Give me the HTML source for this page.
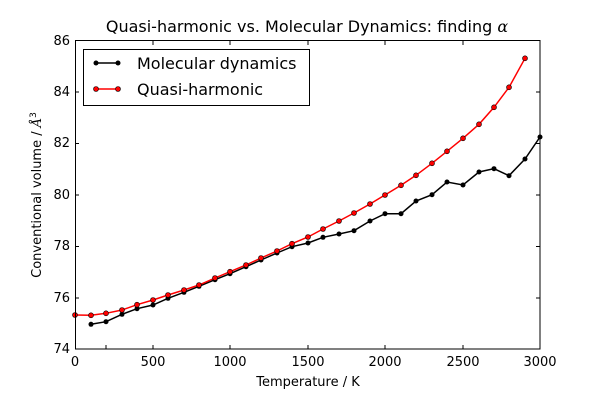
<!DOCTYPE html>
<html><head><style>body{margin:0;background:#fff}svg{display:block}text{font-family:"DejaVu Sans","Liberation Sans",sans-serif}</style></head>
<body>
<svg width="600" height="400" viewBox="0 0 600 400" xmlns="http://www.w3.org/2000/svg">
<rect width="600" height="400" fill="#fff"/>
<text x="307" y="32" font-size="16" text-anchor="middle">Quasi-harmonic vs. Molecular Dynamics: finding <tspan font-family="DejaVu Serif,serif" font-style="italic">α</tspan></text>
<g stroke="#000" stroke-width="1">
<line x1="106" y1="349" x2="106" y2="345"/><line x1="153" y1="349" x2="153" y2="345"/><line x1="230" y1="349" x2="230" y2="345"/><line x1="308" y1="349" x2="308" y2="345"/><line x1="385" y1="349" x2="385" y2="345"/><line x1="463" y1="349" x2="463" y2="345"/>
<line x1="153" y1="41" x2="153" y2="45"/><line x1="230" y1="41" x2="230" y2="45"/><line x1="308" y1="41" x2="308" y2="45"/><line x1="385" y1="41" x2="385" y2="45"/><line x1="463" y1="41" x2="463" y2="45"/>
<line x1="75" y1="298" x2="79" y2="298"/><line x1="75" y1="246.5" x2="79" y2="246.5"/><line x1="75" y1="195" x2="79" y2="195"/><line x1="75" y1="143.5" x2="79" y2="143.5"/><line x1="75" y1="92" x2="79" y2="92"/>
<line x1="540" y1="298" x2="536" y2="298"/><line x1="540" y1="246.5" x2="536" y2="246.5"/><line x1="540" y1="195" x2="536" y2="195"/><line x1="540" y1="143.5" x2="536" y2="143.5"/><line x1="540" y1="92" x2="536" y2="92"/>
</g>
<polyline fill="none" stroke="#000" stroke-width="1.5" points="91,324.3 106,321.7 122,314.3 137,308.7 153,305 168,298.3 184,292.3 199,286.3 215,279.7 230,273.7 246,266.7 261,260 277,253 292,246.7 308,243 323,237.3 339,234 354,230.7 370,221 385,213.7 401,213.7 416,201 432,194.7 447,182 463,185 479,172 494,168.7 509,175.7 525,159 540,137"/>
<g fill="#000">
<circle cx="91" cy="324.3" r="2.5"/><circle cx="106" cy="321.7" r="2.5"/><circle cx="122" cy="314.3" r="2.5"/><circle cx="137" cy="308.7" r="2.5"/><circle cx="153" cy="305" r="2.5"/><circle cx="168" cy="298.3" r="2.5"/><circle cx="184" cy="292.3" r="2.5"/><circle cx="199" cy="286.3" r="2.5"/><circle cx="215" cy="279.7" r="2.5"/><circle cx="230" cy="273.7" r="2.5"/><circle cx="246" cy="266.7" r="2.5"/><circle cx="261" cy="260" r="2.5"/><circle cx="277" cy="253" r="2.5"/><circle cx="292" cy="246.7" r="2.5"/><circle cx="308" cy="243" r="2.5"/><circle cx="323" cy="237.3" r="2.5"/><circle cx="339" cy="234" r="2.5"/><circle cx="354" cy="230.7" r="2.5"/><circle cx="370" cy="221" r="2.5"/><circle cx="385" cy="213.7" r="2.5"/><circle cx="401" cy="213.7" r="2.5"/><circle cx="416" cy="201" r="2.5"/><circle cx="432" cy="194.7" r="2.5"/><circle cx="447" cy="182" r="2.5"/><circle cx="463" cy="185" r="2.5"/><circle cx="479" cy="172" r="2.5"/><circle cx="494" cy="168.7" r="2.5"/><circle cx="509" cy="175.7" r="2.5"/><circle cx="525" cy="159" r="2.5"/><circle cx="540" cy="137" r="2.5"/>
</g>
<polyline fill="none" stroke="#f00" stroke-width="1.5" points="75,315 91,315.3 106,313.3 122,310 137,304.7 153,300 168,295 184,290 199,285 215,278 230,271.7 246,265 261,258 277,251 292,243.7 308,237 323,229 339,221 354,213 370,204 385,195 401,185.3 416,175.3 432,163.3 447,151.3 463,138.3 479,124.3 494,107.3 509,87.3 525,58.3"/>
<g fill="#f00" stroke="#000" stroke-width="0.6">
<circle cx="75" cy="315" r="2.5"/><circle cx="91" cy="315.3" r="2.5"/><circle cx="106" cy="313.3" r="2.5"/><circle cx="122" cy="310" r="2.5"/><circle cx="137" cy="304.7" r="2.5"/><circle cx="153" cy="300" r="2.5"/><circle cx="168" cy="295" r="2.5"/><circle cx="184" cy="290" r="2.5"/><circle cx="199" cy="285" r="2.5"/><circle cx="215" cy="278" r="2.5"/><circle cx="230" cy="271.7" r="2.5"/><circle cx="246" cy="265" r="2.5"/><circle cx="261" cy="258" r="2.5"/><circle cx="277" cy="251" r="2.5"/><circle cx="292" cy="243.7" r="2.5"/><circle cx="308" cy="237" r="2.5"/><circle cx="323" cy="229" r="2.5"/><circle cx="339" cy="221" r="2.5"/><circle cx="354" cy="213" r="2.5"/><circle cx="370" cy="204" r="2.5"/><circle cx="385" cy="195" r="2.5"/><circle cx="401" cy="185.3" r="2.5"/><circle cx="416" cy="175.3" r="2.5"/><circle cx="432" cy="163.3" r="2.5"/><circle cx="447" cy="151.3" r="2.5"/><circle cx="463" cy="138.3" r="2.5"/><circle cx="479" cy="124.3" r="2.5"/><circle cx="494" cy="107.3" r="2.5"/><circle cx="509" cy="87.3" r="2.5"/><circle cx="525" cy="58.3" r="2.5"/>
</g>
<rect x="75.5" y="40.5" width="464.5" height="308.5" fill="none" stroke="#000" stroke-width="1"/>
<rect x="83.5" y="49.5" width="226" height="56" fill="#fff" stroke="#000" stroke-width="1"/>
<line x1="96" y1="63" x2="118" y2="63" stroke="#000" stroke-width="1.5"/>
<circle cx="96" cy="63" r="2.5"/><circle cx="118" cy="63" r="2.5"/>
<line x1="96" y1="89" x2="118" y2="89" stroke="#f00" stroke-width="1.5"/>
<circle cx="96" cy="89" r="2.5" fill="#f00" stroke="#000" stroke-width="0.6"/><circle cx="118" cy="89" r="2.5" fill="#f00" stroke="#000" stroke-width="0.6"/>
<text x="137" y="69" font-size="16">Molecular dynamics</text>
<text x="137" y="95" font-size="16">Quasi-harmonic</text>
<g font-size="13" text-anchor="end">
<text x="70" y="353">74</text><text x="70" y="302">76</text><text x="70" y="250">78</text><text x="70" y="199">80</text><text x="70" y="147">82</text><text x="70" y="96">84</text><text x="70" y="45">86</text>
</g>
<g font-size="13" text-anchor="middle">
<text x="75" y="366">0</text><text x="153" y="366">500</text><text x="230" y="366">1000</text><text x="308" y="366">1500</text><text x="385" y="366">2000</text><text x="463" y="366">2500</text><text x="540" y="366">3000</text>
</g>
<text x="308" y="386" font-size="13" text-anchor="middle">Temperature / K</text>
<text transform="translate(41,195) rotate(-90)" font-size="13" text-anchor="middle">Conventional volume / <tspan font-family="DejaVu Serif,serif" font-style="italic">Å</tspan><tspan font-size="9" dy="-5">3</tspan></text>
</svg>
</body></html>
